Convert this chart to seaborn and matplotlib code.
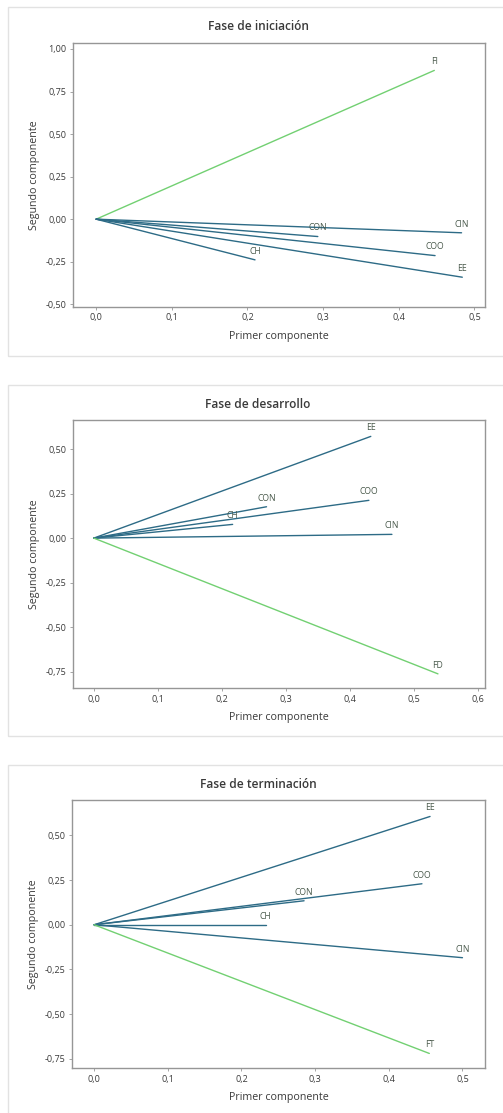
import matplotlib
matplotlib.use("Agg")
import matplotlib.pyplot as plt
from matplotlib.patches import Rectangle
from matplotlib.ticker import FuncFormatter
import numpy as np
import pandas as pd
import seaborn as sns

# Loadings (first and second principal component) per phase
titles = ["Fase de iniciación", "Fase de desarrollo", "Fase de terminación"]

vars_ini = ["FI", "CIN", "CON", "COO", "EE", "CH"]
pc1_ini = [0.447, 0.483, 0.293, 0.448, 0.484, 0.210]
pc2_ini = [0.874, -0.080, -0.102, -0.214, -0.341, -0.239]

vars_des = ["EE", "COO", "CON", "CH", "CIN", "FD"]
pc1_des = [0.433, 0.430, 0.270, 0.217, 0.466, 0.538]
pc2_des = [0.571, 0.212, 0.176, 0.077, 0.021, -0.762]

vars_ter = ["EE", "COO", "CON", "CH", "CIN", "FT"]
pc1_ter = [0.456, 0.445, 0.285, 0.233, 0.500, 0.455]
pc2_ter = [0.605, 0.229, 0.134, 0.000, -0.184, -0.719]

# Phase-score variables drawn in green
phase_vars = ["FI", "FD", "FT"]

xlims = [(-0.031, 0.514), (-0.033, 0.612), (-0.030, 0.531)]
ylims = [(-0.516, 1.035), (-0.843, 0.663), (-0.802, 0.697)]
xticks = [[0.0, 0.1, 0.2, 0.3, 0.4, 0.5],
          [0.0, 0.1, 0.2, 0.3, 0.4, 0.5, 0.6],
          [0.0, 0.1, 0.2, 0.3, 0.4, 0.5]]
yticks = [[-0.50, -0.25, 0.00, 0.25, 0.50, 0.75, 1.00],
          [-0.75, -0.50, -0.25, 0.00, 0.25, 0.50],
          [-0.75, -0.50, -0.25, 0.00, 0.25, 0.50]]

BLUE = "#2d6b86"
GREEN = "#72d072"
LABEL = "#4a5a4c"
TEXT = "#3a3a3a"
SPINE = "#969696"

sns.set_theme(style="white")
plt.rcParams["font.family"] = ["Open Sans", "DejaVu Sans"]

W, H = 503, 1113
fig = plt.figure(figsize=(W / 100, H / 100), dpi=100)

# Axes boxes in pixel units: (left, top, right, bottom)
boxes = [(72.7, 43, 485, 307), (72.7, 420, 485.3, 688.3), (72, 800, 485.3, 1068.3)]
# Panel frames (top, bottom) in pixels
frames = [(7, 356), (385, 736), (765, 1125)]
title_y = [26.7, 404, 784.3]

for f_top, f_bot in frames:
    fig.patches.append(Rectangle((8 / W, 1 - f_bot / H), (520 - 8) / W, (f_bot - f_top) / H,
                                 transform=fig.transFigure, fill=False,
                                 edgecolor="#e2e2e2", linewidth=1.0))

data = [(vars_ini, pc1_ini, pc2_ini), (vars_des, pc1_des, pc2_des), (vars_ter, pc1_ter, pc2_ter)]

fmt1 = FuncFormatter(lambda v, p: f"{v:.1f}".replace(".", ","))
fmt2 = FuncFormatter(lambda v, p: f"{v:.2f}".replace(".", ","))

for i, ((names, xs, ys), (l, t, r, b)) in enumerate(zip(data, boxes)):
    ax = fig.add_axes([l / W, 1 - b / H, (r - l) / W, (b - t) / H])
    rows = []
    for n, x, y in zip(names, xs, ys):
        rows.append({"var": n, "x": 0.0, "y": 0.0, "step": 0})
        rows.append({"var": n, "x": x, "y": y, "step": 1})
    df = pd.DataFrame(rows)
    palette = {n: (GREEN if n in phase_vars else BLUE) for n in names}
    sns.lineplot(data=df, x="x", y="y", hue="var", units="var", estimator=None,
                 sort=False, palette=palette, legend=False, linewidth=1.0, ax=ax)
    for n, x, y in zip(names, xs, ys):
        ax.annotate(n, (x, y), xytext=(0, 3), textcoords="offset points",
                    ha="center", va="bottom", fontsize=6.2, color=LABEL)

    ax.set_xlim(*xlims[i])
    ax.set_ylim(*ylims[i])
    ax.set_xticks(xticks[i])
    ax.set_yticks(yticks[i])
    ax.xaxis.set_major_formatter(fmt1)
    ax.yaxis.set_major_formatter(fmt2)
    ax.tick_params(axis="both", which="major", direction="out", length=2.5, width=0.6,
                   color=SPINE, labelsize=6.5, labelcolor=TEXT, pad=2,
                   bottom=True, left=True)
    for s in ax.spines.values():
        s.set_color(SPINE)
        s.set_linewidth(1.0)
    ax.set_xlabel("Primer componente", fontsize=7.7, color=TEXT, labelpad=6)
    ax.set_ylabel("Segundo componente", fontsize=7.7, color=TEXT, labelpad=4)
    ax.grid(False)

    fig.text(258 / W, 1 - title_y[i] / H, titles[i], ha="center", va="center",
             fontsize=8.6, color=TEXT, fontweight="semibold")

fig.savefig("out.png", dpi=100, facecolor="white")
